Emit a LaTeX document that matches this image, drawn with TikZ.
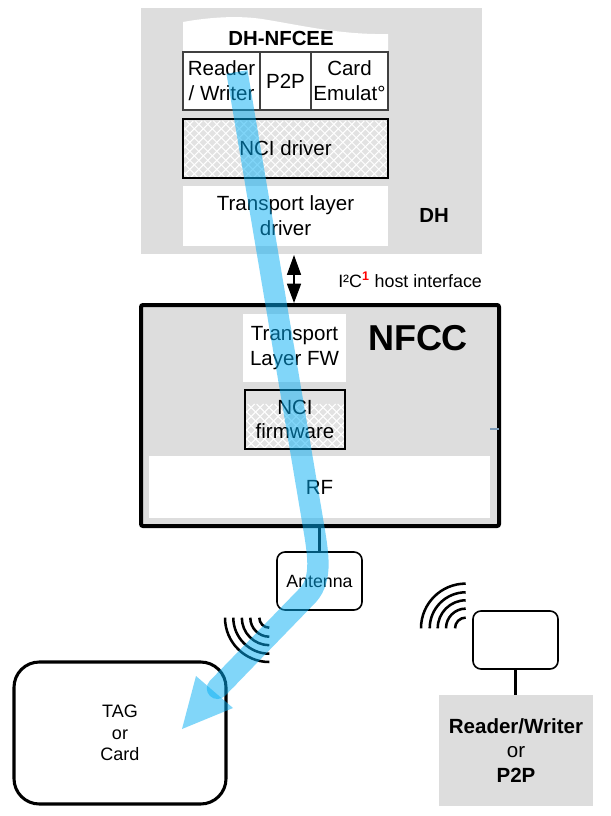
\documentclass[tikz,border=0pt]{standalone}
\usepackage{fontspec}
\setmainfont{Liberation Sans}
\usetikzlibrary{arrows.meta}
\definecolor{panel}{HTML}{DDDDDD}
\definecolor{hatchbg}{HTML}{E2E2E2}
\definecolor{flow}{RGB}{5,175,245}
\definecolor{tickc}{HTML}{7F9DB9}
\tikzset{
  x=0.75pt,y=-0.75pt,
  wh/.style 2 args={minimum width=#1*0.75pt,minimum height=#2*0.75pt,inner sep=0pt,outer sep=0pt},
  label/.style={align=center,font=\fontsize{15.4}{18.6}\selectfont,inner sep=0pt},
  panelbox/.style={fill=panel,label},
  whitebox/.style={fill=white,label},
  cell/.style={draw=black!75,fill=white,line width=0.9pt,label},
  hatchbox/.style={fill=hatchbg,draw=black,label,path picture={
    \foreach \d in {-180,-171,...,180}{
      \draw[white,line width=0.75pt] ({\d-35},-35) -- ({\d+35},35);
      \draw[white,line width=0.75pt] ({\d+35},-35) -- ({\d-35},35);
    }}},
  roundbox/.style={draw=black,fill=white,rounded corners=6pt,line width=1.2pt,label},
  wavearc/.style={draw=black,line width=1.9pt},
  flowline/.style={draw=flow,line width=16pt},
  linkline/.style={draw=black,line width=1.6pt},
}
\begin{document}
\begin{tikzpicture}
\useasboundingbox (0,0) rectangle (610,816);
\fill[white] (0,0) rectangle (610,816);
% DH
\node[panelbox,wh={341}{246}] (dh) at (311.5,131) {};
\fill[white] (183,22) .. controls (205,18) and (235,15) .. (262,19) .. controls (300,25) and (340,35) .. (388,34) -- (388,52) -- (183,52) -- cycle;
\node[label,font=\fontsize{15.3}{18}\bfseries\selectfont] (dhnfcee) at (281,38) {DH-NFCEE};
\node[cell,wh={77}{58}] (rw) at (221.5,81) {Reader\\/ Writer};
\node[cell,wh={51}{58}] (p2p) at (285.5,81) {P2P};
\node[cell,wh={77}{58}] (ce) at (349.5,81) {Card\\Emulat°};
\node[hatchbox,line width=1.4pt,wh={205}{59}] (ncid) at (285.5,148.5) {NCI driver};
\node[whitebox,wh={205}{60}] (tld) at (285.5,216) {Transport layer\\driver};
\node[label,font=\fontsize{15.3}{18}\bfseries\selectfont] (dhl) at (434,215) {DH};
% NFCC
\node[panelbox,draw=black,line width=3pt,rounded corners=1.5pt,wh={358}{221}] (nfcc) at (320,415.5) {};
\node[whitebox,wh={103}{68}] (tlf) at (294.5,348) {Transport\\Layer FW};
\node[hatchbox,line width=1pt,wh={100}{59}] (ncif) at (295,419.5) {NCI\\firmware};
\node[whitebox,wh={341}{62}] (rf) at (319.5,487) {RF};
\node[label,font=\fontsize{27}{30}\bfseries\selectfont] (nfccl) at (418,338) {NFCC};
\node[label,font=\fontsize{13.4}{16}\selectfont,anchor=west] (i2c) at (338,280) {I²C\textsuperscript{\textcolor{red}{\textbf{1}}} host interface};
\coordinate (tick) at (490,429);
\draw[tickc,line width=0.8pt] (tick) -- (nfcc.east |- tick);
% interface arrow
\draw[{Triangle[length=15pt,width=10.5pt]}-{Triangle[length=14.5pt,width=10.5pt]},line width=1.2pt] (294,255) -- (294,303);
% antenna
\node[roundbox,wh={85}{58},font=\fontsize{13.3}{16}\selectfont] (ant) at (319.5,581) {Antenna};
\draw[linkline] (nfcc.south -| ant.north) -- (ant.north);
% tag
\node[roundbox,line width=2.3pt,rounded corners=19pt,wh={212}{142},font=\fontsize{13.5}{16.2}\selectfont] (tag) at (120,733) {TAG\\or\\Card};
% reader
\node[panelbox,wh={154}{111}] (rd) at (516,750.5) {\textbf{Reader/Writer}\\or\\\textbf{P2P}};
\node[roundbox,wh={85}{58}] (dev) at (515.5,640) {};
\draw[linkline] (dev.south) -- (dev.south |- rd.north);
% waves
\foreach \r in {44.3,36,27.5,19,10}{
  \draw[wavearc] ({269.3-\r},617.7) .. controls ({269.3-\r},{617.7+0.5523*\r}) and ({269.3-0.5523*\r},{617.7+\r}) .. (269.3,{617.7+\r});
}
\foreach \r in {44.7,36,28,19.7,10.7}{
  \draw[wavearc] ({465.7-\r},628.3) .. controls ({465.7-\r},{628.3-0.5523*\r}) and ({465.7-0.5523*\r},{628.3-\r}) .. (465.7,{628.3-\r});
}
% flow
\begin{scope}[transparency group,opacity=0.5]
\draw[flowline,-{Round Cap[]}] (237,72) -- (312.5,520) .. controls (318,553) and (323,578) .. (308,595) -- (210,696);
\end{scope}
\fill[flow,fill opacity=0.5] (182,729) -- (196,676) -- (233,708) -- cycle;
\end{tikzpicture}
\end{document}
